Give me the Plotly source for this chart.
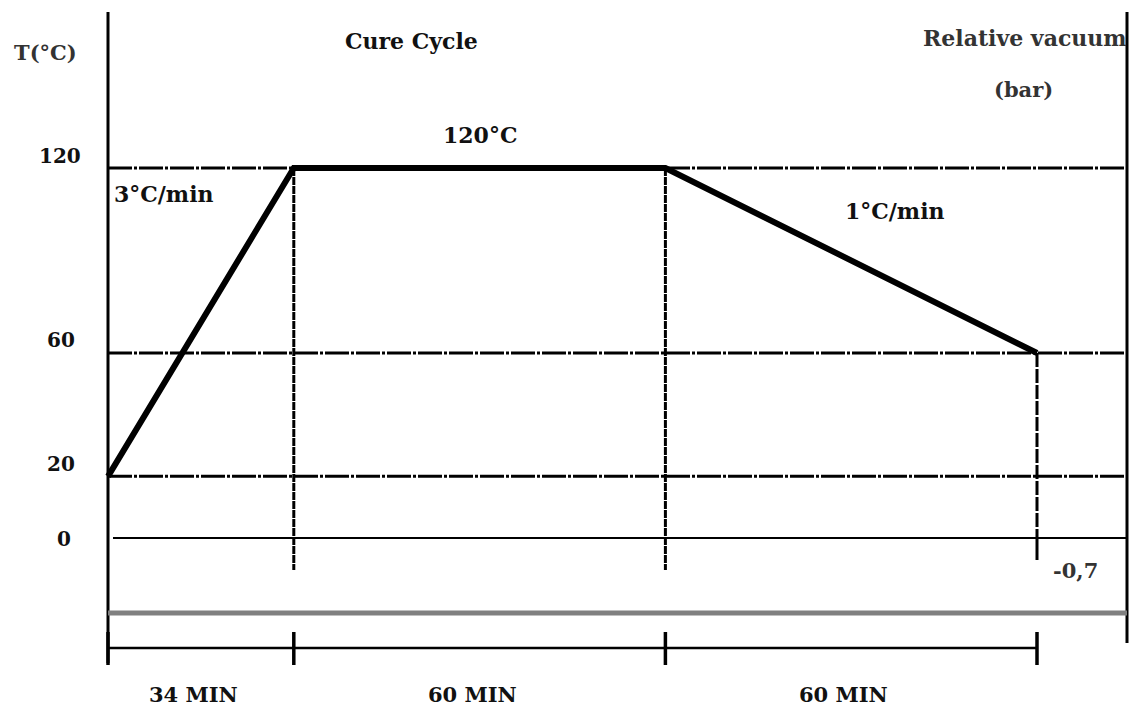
import plotly.graph_objects as go

# ---- data ----
phase_labels = ["34 MIN", "60 MIN", "60 MIN"]
phase_pos = [0, 1, 3, 5]            # schematic positions of phase boundaries (not to scale)
temp_profile = [20, 120, 120, 60]   # °C at each boundary
temp_ticks = [120, 60, 20, 0]
ref_temps = [120, 60, 20]
segment_labels = ["3°C/min", "120°C", "1°C/min"]
vacuum_level = -0.7                 # bar
vacuum_label = "-0,7"

# ---- geometry / style (page pixel coordinates) ----
W, H = 1130, 710
X0PX, XUNIT = 108, 185.8            # px of x=0, px per unit
Y0PX, YUNIT = 538, 3.0833           # px of T=0, px per °C
V0PX, VUNIT = 538, 107.14           # px of vac=0, px per bar

def xd(px): return (px - X0PX) / XUNIT
def yd(py): return (Y0PX - py) / YUNIT

x_rng = [xd(0), xd(W)]
y_rng = [yd(H), yd(0)]
y2_rng = [(V0PX - H) / VUNIT, V0PX / VUNIT]
x_right = xd(1127)

FONT = "DejaVu Serif"
BLK = "#000000"

fig = go.Figure()

def seg(x, y, width, color=BLK, dash="solid", yaxis="y"):
    fig.add_trace(go.Scatter(x=x, y=y, mode="lines", yaxis=yaxis, hoverinfo="skip",
                             line=dict(color=color, width=width, dash=dash),
                             showlegend=False, cliponaxis=False))

# reference dash-dot lines
for t in ref_temps:
    seg([phase_pos[0], x_right], [t, t], 3, dash="24px,2px,3px,2px")

# zero line
seg([xd(113), x_right], [0, 0], 2)

# vertical dashed phase lines
seg([phase_pos[1]] * 2, [temp_profile[1], yd(570)], 3, dash="8px,1px")
seg([phase_pos[2]] * 2, [temp_profile[2], yd(570)], 3, dash="8px,1px")
seg([phase_pos[3]] * 2, [temp_profile[3], 0], 3, dash="14px,2px")
seg([phase_pos[3]] * 2, [0, yd(560)], 3)

# vacuum level (grey) on secondary axis
seg([phase_pos[0], x_right], [vacuum_level, vacuum_level], 5, color="#808080", yaxis="y2")

# left & right axis lines
seg([phase_pos[0]] * 2, [yd(12), yd(663)], 3)
seg([x_right] * 2, [yd(12), yd(643)], 3)

# time axis
t_axis_y = yd(648)
seg([phase_pos[0], phase_pos[-1]], [t_axis_y, t_axis_y], 2.5)
for p in phase_pos:
    seg([p, p], [yd(632), yd(665)], 3.5)

# temperature profile
seg(phase_pos, temp_profile, 6)

# ---- text ----
def txt(x, y, s, size=21, bold=True, xanchor="center", color="#111111"):
    fig.add_annotation(x=x, y=y, xref="x", yref="y", text=f"<b>{s}</b>" if bold else s,
                       showarrow=False, xanchor=xanchor, yanchor="middle",
                       font=dict(family=FONT, size=size, color=color))

txt(xd(45), yd(52), "T(°C)", size=21, bold=True, color="#333333")
txt(xd(411), yd(41), "Cure Cycle", size=22)
txt(xd(1129), yd(38), "Relative vacuum", size=22, xanchor="right", color="#333333")
txt(xd(1023), yd(89), "(bar)", size=21, color="#333333")

tick_px = {120: 60, 60: 61, 20: 61, 0: 64}
tick_py = {120: 156, 60: 340, 20: 464, 0: 539}
for t in temp_ticks:
    txt(xd(tick_px[t]), yd(tick_py[t]), str(t), size=20)

txt(xd(112), yd(194), segment_labels[0], size=22, xanchor="left")
txt((phase_pos[1] + phase_pos[2]) / 2, yd(135), segment_labels[1], size=22)
txt(xd(894), yd(211), segment_labels[2], size=22)
txt(xd(1075), yd(570), vacuum_label, size=21, color="#333333")

for i, lab in enumerate(phase_labels):
    mid = (phase_pos[i] + phase_pos[i + 1]) / 2
    txt(mid - 0.04, yd(694), lab, size=21)

fig.update_layout(
    width=W, height=H, margin=dict(l=0, r=0, t=0, b=0),
    paper_bgcolor="white", plot_bgcolor="white",
    xaxis=dict(range=x_rng, visible=False, fixedrange=True),
    yaxis=dict(range=y_rng, visible=False, fixedrange=True),
    yaxis2=dict(range=y2_rng, visible=False, overlaying="y", fixedrange=True),
    showlegend=False,
)

fig.write_html(
    "out.html",
    config={"displayModeBar": False},
    post_script="document.body.style.margin='0';document.body.style.overflow='hidden';",
)
